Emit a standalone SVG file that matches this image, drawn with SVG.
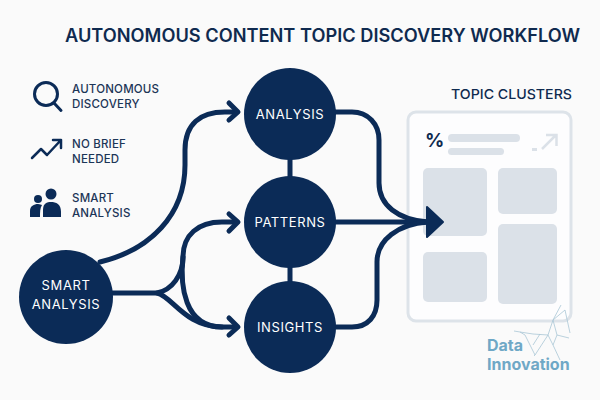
<svg xmlns="http://www.w3.org/2000/svg" width="600" height="400" viewBox="0 0 600 400">
<style>
text{font-family:"Inter","Liberation Sans",sans-serif}
.title{font-size:18px;font-weight:600;fill:#0f2a4f}
.legend{font-size:11.5px;font-weight:500;fill:#1c3557;letter-spacing:.2px}
.nl{font-size:13px;font-weight:400;fill:#fff;text-anchor:middle;letter-spacing:.6px}
.node{fill:#0b2b57}
.c{fill:none;stroke:#0b2b57;stroke-width:5;stroke-linecap:round;stroke-linejoin:round}
.t{fill:none;stroke:#0b2b57;stroke-width:5}
.cell{fill:#dbe1e8}
.logo{font-size:16px;font-weight:700;fill:#6fa8c6}
.uni{fill:none;stroke:#a9c6d6;stroke-width:.8}
</style>
<rect width="600" height="400" fill="#fafafa"/>
<text class="title" x="65" y="42" textLength="515" lengthAdjust="spacingAndGlyphs">AUTONOMOUS CONTENT TOPIC DISCOVERY WORKFLOW</text>

<g id="legend-discovery">
<circle cx="46" cy="94" r="11.5" fill="none" stroke="#0b2b57" stroke-width="3"/>
<path d="M54 103L61 110.500" fill="none" stroke="#0b2b57" stroke-width="3" stroke-linecap="round"/>
<text class="legend" x="72" y="93">AUTONOMOUS</text>
<text class="legend" x="72" y="108">DISCOVERY</text>
</g>
<g id="legend-brief">
<path d="M32 158L41 149L47 155L61 140M53 140H61V148" fill="none" stroke="#0b2b57" stroke-width="2.500" stroke-linecap="round" stroke-linejoin="round"/>
<text class="legend" x="72" y="148">NO BRIEF</text>
<text class="legend" x="72" y="163">NEEDED</text>
</g>
<g id="legend-analysis">
<circle cx="51" cy="194" r="5.500" fill="#0b2b57"/>
<circle cx="38" cy="199" r="4" fill="#0b2b57"/>
<path d="M43 217V210C43 203 47 202 51 202C56 202 61 204 61 212V217Z" fill="#0b2b57"/>
<path d="M30 217V211C30 206 34 204 38 204C40 204 41 205 42 205C40 208 40 212 40 217Z" fill="#0b2b57"/>
<text class="legend" x="72" y="202">SMART</text>
<text class="legend" x="72" y="217">ANALYSIS</text>
</g>

<g id="topic-clusters">
<text x="451" y="99" font-size="13.500" font-weight="500" fill="#0f2a4f" textLength="121" lengthAdjust="spacingAndGlyphs">TOPIC CLUSTERS</text>
<rect x="408" y="112" width="163" height="209" rx="8" fill="#fdfdfe" stroke="#dde3e9" stroke-width="3"/>
<text x="425" y="147" font-size="19" font-weight="700" fill="#0f2a4f">%</text>
<rect x="448" y="134" width="72" height="8" rx="4" class="cell"/>
<rect x="448" y="148" width="56" height="7" rx="3.500" class="cell"/>
<path d="M532 149.500H537" stroke="#dbe1e8" stroke-width="3" fill="none"/>
<path d="M542 149L556 135M546 135H556.500V146" stroke="#dbe1e8" stroke-width="2.500" fill="none"/>
<rect x="423" y="168" width="64" height="68" rx="5" class="cell"/>
<rect x="498" y="168" width="59" height="46" rx="5" class="cell"/>
<rect x="498" y="224" width="59" height="80" rx="5" class="cell"/>
<rect x="423" y="252" width="64" height="50" rx="5" class="cell"/>
</g>

<g id="connectors">
<path class="t" d="M290 155V180M290 265V285"/>
<path class="c" d="M100 262C150 250 185 215 185 165V150C185 124 200 112 225 112H236"/>
<path class="c" d="M229 103L238 112L229 120"/>
<path class="c" d="M112 293H157C172 290 183 275 183 257C183 235 198 222 222 222H236"/>
<path class="c" d="M229 214L238 222L229 231"/>
<path class="c" d="M157 293C172 296 185 327 222 327H236"/>
<path class="c" d="M183 257C180 285 184 327 222 327"/>
<path class="c" d="M229 318L238 327L229 335"/>
<path class="c" d="M335 112H352C368 112 379 124 379 140V183C379 205 398 220 428 222"/>
<path class="c" d="M335 222H428"/>
<path class="c" d="M335 327H352C368 327 377 316 377 300V262C377 240 398 224 428 222"/>
<path d="M427 207L443 222L427 237Z" fill="#0b2b57" stroke="#0b2b57" stroke-width="2" stroke-linejoin="round"/>
</g>

<g id="node-analysis"><circle class="node" cx="290" cy="114" r="46"/><text class="nl" x="290" y="119">ANALYSIS</text></g>
<g id="node-patterns"><circle class="node" cx="290" cy="222" r="46"/><text class="nl" x="290" y="227">PATTERNS</text></g>
<g id="node-insights"><circle class="node" cx="290" cy="327" r="46"/><text class="nl" x="290" y="332">INSIGHTS</text></g>
<g id="node-smart"><circle class="node" cx="66" cy="297" r="47"/><text class="nl" x="66" y="290">SMART</text><text class="nl" x="66" y="309">ANALYSIS</text></g>

<g id="logo">
<path class="uni" d="M561 305L553 320L548 335L553 345L560 360M553 320L565 310L570 333M548 335L533 334L520 332L525 335L535 355L534 356M553 320L557 335L569 338M548 335L535 355M557 335L553 345M520 332L514 331M540 334L533 345"/>
<text class="logo" x="487" y="351">Data</text>
<text class="logo" x="487" y="369.500">Innovation</text>
</g>
</svg>
